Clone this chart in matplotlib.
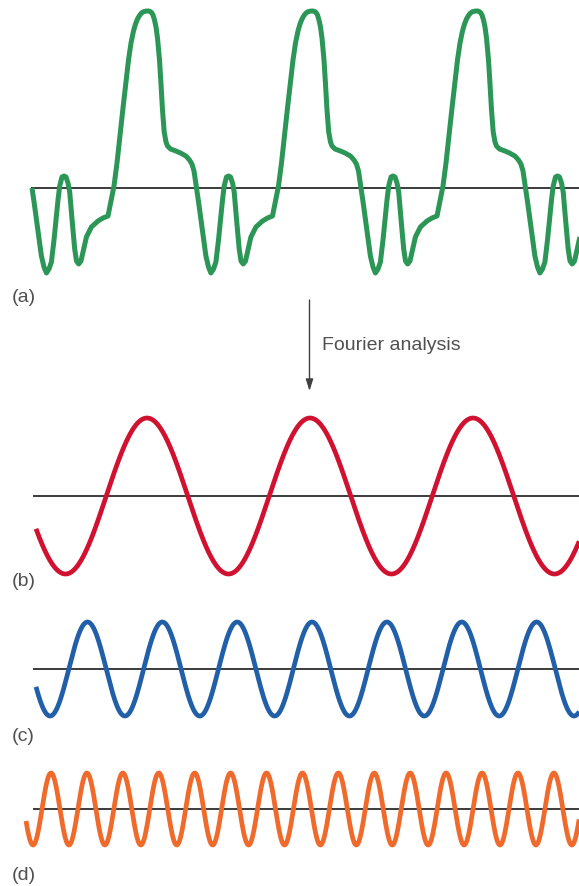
import numpy as np
import matplotlib
matplotlib.use("Agg")
import matplotlib.pyplot as plt

# ---------------- data ----------------
# (a) complex wave: one cycle (offset from peak, height above baseline)
green_cycle_x = [0, 1.5, 3, 4.5, 6, 7.5, 9, 11, 12.5, 14, 15.7, 17.5, 19, 22, 27.4, 32, 37.4, 41,
                 43.4, 45.5, 46.7, 48, 50.2, 52.4, 55, 57.4, 60, 62.4, 65, 67.4, 70, 72.4, 74,
                 75.7, 78, 80, 82, 84, 85.7, 88, 90.7, 92.5, 94.7, 97, 99, 102.4, 107.4, 114,
                 119, 124, 127.4, 130, 133, 136, 139, 142, 144.5, 147, 149.5, 151.5, 153.5,
                 155.5, 157.5, 159.5, 162, 164.5]
green_cycle_y = [177, 176.6, 175.5, 173, 168, 161, 150, 128, 104, 78, 56, 46, 42, 39, 37, 35,
                 32, 28, 24, 17, 9, 0, -15, -31, -50, -68, -79, -85, -81, -74, -52, -28, -12,
                 2, 11, 12, 11, 5, -4, -31, -61, -73, -76, -73, -64, -49, -39, -33, -30, -28,
                 -11, 2, 25, 53, 80, 106, 128, 145, 157, 164, 169, 172.5, 175, 176.3, 176.9, 177]
green_period = 164.5
green_first_peak = 148.5
green_start = 32.0

# (b), (c), (d) component sine waves: amplitude, period, peak position, start
sine_names = ["b", "c", "d"]
sine_amplitudes = [78, 47, 36]
sine_periods = [163.0, 74.85, 35.92]
sine_peak_positions = [147.0, 87.5, 51.0]
sine_starts = [36.0, 36.0, 26.0]
sine_colors = ["#D01230", "#2160A8", "#F06A2C"]

panel_labels = ["(a)", "(b)", "(c)", "(d)"]
arrow_label = "Fourier analysis"

# ---------------- layout ----------------
W, H = 579, 887
fig = plt.figure(figsize=(W / 100, H / 100), dpi=100)

def panel_axes(top, bottom, baseline):
    ax = fig.add_axes([0, 1 - bottom / H, 1, (bottom - top) / H])
    ax.set_xlim(0, W)
    ax.set_ylim(-(bottom - baseline), baseline - top)
    ax.axis("off")
    ax.patch.set_alpha(0)
    return ax

panels = {
    "a": (0, 300, 189),
    "b": (400, 600, 497),
    "c": (600, 740, 670),
    "d": (740, 880, 810),
}
base_start = {"a": 31.0, "b": 32.5, "c": 32.5, "d": 32.5}

axes = {k: panel_axes(*v) for k, v in panels.items()}

# baselines
for k, ax in axes.items():
    ax.plot([base_start[k], W], [0, 0], color="#1a1a1a", lw=1.2, solid_capstyle="butt", zorder=1)

# (a) composite wave
gx, gy = [], []
for k in range(-1, 4):
    for cx, cy in zip(green_cycle_x, green_cycle_y):
        x = green_first_peak + k * green_period + cx
        if green_start <= x <= W + 5:
            if gx and abs(x - gx[-1]) < 1e-6:
                continue
            gx.append(x)
            gy.append(cy)
axes["a"].plot(gx, gy, color="#2B9656", lw=3.6, solid_capstyle="butt",
               solid_joinstyle="round", zorder=2)

# (b)(c)(d) sine components
for name, amp, per, pk, st, col in zip(sine_names, sine_amplitudes, sine_periods,
                                       sine_peak_positions, sine_starts, sine_colors):
    x = np.linspace(st, W + 2, 1500)
    y = amp * np.cos(2 * np.pi * (x - pk) / per)
    axes[name].plot(x, y, color=col, lw=3.4, solid_capstyle="butt", zorder=2)

# overlay for labels and arrow
ov = fig.add_axes([0, 0, 1, 1])
ov.set_xlim(0, W)
ov.set_ylim(H, 0)
ov.axis("off")
ov.patch.set_alpha(0)

font = dict(family=["Liberation Sans", "DejaVu Sans"], fontsize=14, color="#505050")
label_y = [298, 581.5, 736.5, 876]
for lab, yy in zip(panel_labels, label_y):
    ov.text(12, yy, lab, va="center", ha="left", **font)

ov.annotate("", xy=(309.5, 392), xytext=(309.5, 301),
            arrowprops=dict(arrowstyle="-|>,head_length=0.7,head_width=0.22",
                            color="#404040", lw=1.0, shrinkA=0, shrinkB=0))
ov.text(321.5, 346, arrow_label, va="center", ha="left", **font)

fig.savefig("out.png", dpi=100)
